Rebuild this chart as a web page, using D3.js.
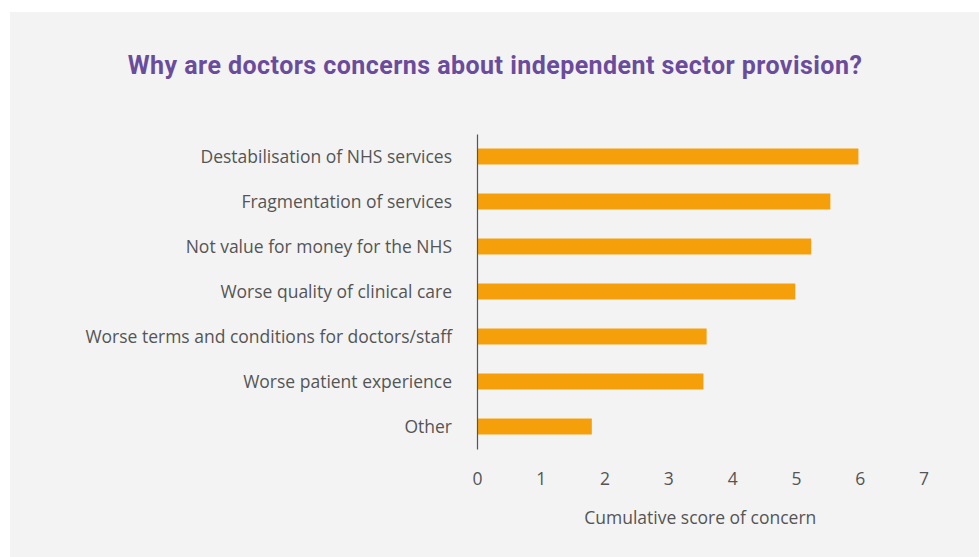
<!DOCTYPE html>
<html><head><meta charset="utf-8">
<script src="https://cdn.jsdelivr.net/npm/d3@7"></script>
<style>
html,body{margin:0;padding:0;background:#fff;}
svg{display:block;}
</style></head>
<body>
<script>
const categories = [
  "Destabilisation of NHS services",
  "Fragmentation of services",
  "Not value for money for the NHS",
  "Worse quality of clinical care",
  "Worse terms and conditions for doctors/staff",
  "Worse patient experience",
  "Other"
];
const values = [5.98, 5.54, 5.24, 4.99, 3.6, 3.55, 1.8];
const xTicks = [0, 1, 2, 3, 4, 5, 6, 7];
const title = "Why are doctors concerns about independent sector provision?";
const xTitle = "Cumulative score of concern";

const W = 979, H = 557;
const svg = d3.select("body").append("svg").attr("width", W).attr("height", H);
svg.append("rect").attr("x", 10).attr("y", 12).attr("width", W - 10).attr("height", H - 12).attr("fill", "#f3f3f3");

svg.append("text").attr("x", 495).attr("y", 74).attr("text-anchor", "middle")
  .attr("font-family", "Roboto, sans-serif").attr("font-weight", "bold")
  .attr("font-size", 25).attr("letter-spacing", 0.45).attr("fill", "#6b4c9c").text(title);

const x = d3.scaleLinear().domain([0, 7]).range([477, 923.5]);
const y = d3.scaleBand().domain(categories).range([134, 449]).paddingInner(0.645).paddingOuter(0.3225);

const font = "'Open Sans', sans-serif";
const fs = 17.5;
const txt = "#555";

svg.selectAll("rect.bar").data(values).enter().append("rect").attr("class", "bar")
  .attr("x", x(0)).attr("y", (d, i) => y(categories[i]))
  .attr("width", d => x(d) - x(0)).attr("height", y.bandwidth()).attr("fill", "#f5a00a");

const yAxis = svg.append("g").attr("transform", `translate(${x(0)},0)`)
  .call(d3.axisLeft(y).tickSize(0).tickPadding(25));
yAxis.select(".domain").attr("stroke", "#555").attr("stroke-width", 1.2);
yAxis.selectAll("text").attr("font-family", font).attr("font-size", fs).attr("fill", txt).attr("dy", "0.38em");

const xAxis = svg.append("g").attr("transform", `translate(0,449)`)
  .call(d3.axisBottom(x).tickValues(xTicks).tickSize(0).tickPadding(24).tickFormat(d3.format("d")));
xAxis.select(".domain").remove();
xAxis.selectAll("text").attr("font-family", font).attr("font-size", fs).attr("fill", txt);

svg.append("text").attr("x", (x(0) + x(7)) / 2).attr("y", 524).attr("text-anchor", "middle")
  .attr("font-family", font).attr("font-size", fs).attr("fill", txt).text(xTitle);
</script>
</body></html>
